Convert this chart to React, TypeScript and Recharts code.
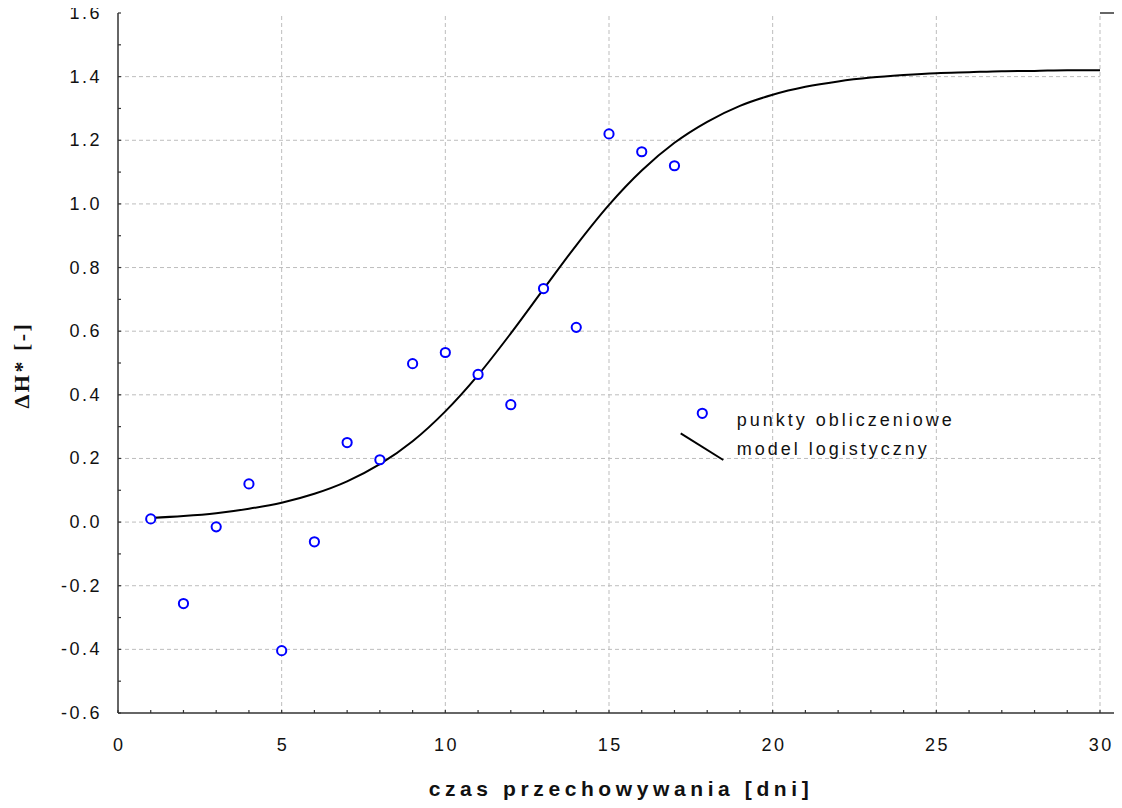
import React from 'react';
import {
  ComposedChart,
  Line,
  Scatter,
  XAxis,
  YAxis,
  ReferenceLine,
} from 'recharts';

// dni (days) and measured ΔH* values
const days = [1, 2, 3, 4, 5, 6, 7, 8, 9, 10, 11, 12, 13, 14, 15, 16, 17];
const deltaH = [0.01, -0.256, -0.015, 0.12, -0.404, -0.062, 0.25, 0.196, 0.498, 0.533, 0.464, 0.369, 0.734, 0.612, 1.22, 1.164, 1.12];

// logistic model curve
const modelDays = [1, 2, 3, 4, 5, 6, 7, 8, 9, 10, 11, 12, 13, 14, 15, 16, 17, 18, 19, 20, 21, 22, 23, 24, 25, 26, 27, 28, 29, 30];
const modelH = [0.013, 0.019, 0.028, 0.042, 0.061, 0.089, 0.128, 0.182, 0.254, 0.348, 0.462, 0.593, 0.732, 0.87, 0.997, 1.105, 1.192, 1.258, 1.308, 1.343, 1.368, 1.385, 1.397, 1.405, 1.411, 1.414, 1.417, 1.418, 1.42, 1.42];

const xTicks = [0, 1, 2, 3, 4, 5, 6, 7, 8, 9, 10, 11, 12, 13, 14, 15, 16, 17, 18, 19, 20, 21, 22, 23, 24, 25, 26, 27, 28, 29, 30];
const yTicks = [-0.6, -0.5, -0.4, -0.3, -0.2, -0.1, 0, 0.1, 0.2, 0.3, 0.4, 0.5, 0.6, 0.7, 0.8, 0.9, 1.0, 1.1, 1.2, 1.3, 1.4, 1.5, 1.6];
const xGrid = [5, 10, 15, 20, 25, 30];
const yGrid = [-0.4, -0.2, 0, 0.2, 0.4, 0.6, 0.8, 1.0, 1.2, 1.4];

const points = days.map((d, i) => ({ x: d, y: deltaH[i] }));
const model = modelDays.map((d, i) => ({ x: d, y: modelH[i] }));

const AXIS = '#333';
const GRID = '#bdbdbd';
const FONT = 'Arial, "Liberation Sans", sans-serif';

function BottomTick({ x, y, payload }: any) {
  const major = payload.value % 5 === 0;
  return (
    <g>
      <line x1={x} x2={x} y1={y} y2={y - 3} stroke={AXIS} strokeWidth={1.2} />
      {major && (
        <text x={x + 1.3} y={y + 32} textAnchor="middle" dominantBaseline="central"
          fontFamily={FONT} fontSize={18} letterSpacing={2.5} fill="#111">
          {payload.value}
        </text>
      )}
    </g>
  );
}

function TopTick({ x, y }: any) {
  return <line x1={x} x2={x} y1={y} y2={y + 3} stroke={AXIS} strokeWidth={1.2} />;
}

function LeftTick({ x, y, payload }: any) {
  const major = Math.round(payload.value * 10) % 2 === 0;
  return (
    <g>
      <line x1={x} x2={x + 3} y1={y} y2={y} stroke={AXIS} strokeWidth={1.2} />
      {major && (
        <text x={x - 16} y={y} textAnchor="end" dominantBaseline="central"
          fontFamily={FONT} fontSize={18} letterSpacing={2.5} fill="#111">
          {payload.value.toFixed(1)}
        </text>
      )}
    </g>
  );
}

function XTitle({ viewBox }: any) {
  const cx = viewBox.x + viewBox.width / 2 + 12;
  return (
    <text x={cx} y={viewBox.y + 83} textAnchor="middle" fontFamily={FONT} fontSize={21}
      fontWeight="bold" letterSpacing={4.6} fill="#111">
      czas przechowywania [dni]
    </text>
  );
}

function YTitle({ viewBox }: any) {
  const cx = 29;
  const cy = viewBox.y + viewBox.height / 2 + 2;
  return (
    <text x={cx} y={cy} transform={`rotate(-90, ${cx}, ${cy})`} textAnchor="middle"
      fontFamily='"Liberation Serif", "DejaVu Serif", serif' fontSize={22} fontWeight="bold"
      letterSpacing={2.5} fill="#111">
      ΔH* [-]
    </text>
  );
}

function Ring(props: any) {
  const { cx, cy } = props;
  return <circle cx={cx} cy={cy} r={4.6} fill="#fff" stroke="#0000ff" strokeWidth={2} />;
}

function LegendBox() {
  return (
    <svg width={320} height={80} style={{ position: 'absolute', left: 660, top: 390, overflow: 'visible' }}>
      <circle cx={42.3} cy={23.3} r={4.6} fill="#fff" stroke="#0000ff" strokeWidth={2} />
      <text x={76.7} y={36} fontFamily={FONT} fontSize={18} letterSpacing={3} fill="#111">
        punkty obliczeniowe
      </text>
      <line x1={20.7} y1={43.3} x2={63.3} y2={70} stroke="#000" strokeWidth={2} />
      <text x={76.7} y={65} fontFamily={FONT} fontSize={18} letterSpacing={3} fill="#111">
        model logistyczny
      </text>
    </svg>
  );
}

export default function App() {
  return (
    <div style={{ position: 'relative', width: 1122, height: 808, margin: -8, background: '#fff' }}>
      <ComposedChart width={1122} height={808} margin={{ top: 13, right: 22, bottom: 0, left: 0 }}>
        <XAxis
          xAxisId="b"
          type="number"
          dataKey="x"
          domain={[0, 30]}
          ticks={xTicks}
          interval={0}
          height={95}
          tickSize={0}
          tickMargin={0}
          tick={<BottomTick />}
          axisLine={{ stroke: AXIS, strokeWidth: 1.5 }}
          label={<XTitle />}
        />
        <XAxis
          xAxisId="t"
          orientation="top"
          type="number"
          dataKey="x"
          domain={[0, 30]}
          ticks={xTicks}
          interval={0}
          height={0}
          tickSize={0}
          tickMargin={0}
          tick={<TopTick />}
          axisLine={{ stroke: AXIS, strokeWidth: 1.5 }}
        />
        <YAxis
          yAxisId="l"
          type="number"
          domain={[-0.6, 1.6]}
          ticks={yTicks}
          interval={0}
          width={118}
          tickSize={0}
          tickMargin={0}
          tick={<LeftTick />}
          axisLine={{ stroke: AXIS, strokeWidth: 1.5 }}
          label={<YTitle />}
        />

        {xGrid.map((v) => (
          <ReferenceLine key={'gx' + v} xAxisId="b" yAxisId="l" x={v} stroke={GRID} strokeDasharray="4 3" />
        ))}
        {yGrid.map((v) => (
          <ReferenceLine key={'gy' + v} xAxisId="b" yAxisId="l" y={v} stroke={GRID} strokeDasharray="4 3" />
        ))}
        {/* axis lines run on past 30 to the edge */}
        <ReferenceLine xAxisId="b" yAxisId="l" ifOverflow="visible" stroke={AXIS} strokeWidth={1.5}
          segment={[{ x: 30, y: 1.6 }, { x: 30.7, y: 1.6 }]} />
        <ReferenceLine xAxisId="b" yAxisId="l" ifOverflow="visible" stroke={AXIS} strokeWidth={1.5}
          segment={[{ x: 30, y: -0.6 }, { x: 30.7, y: -0.6 }]} />

        <Line
          xAxisId="b"
          yAxisId="l"
          data={model}
          dataKey="y"
          type="monotone"
          stroke="#000"
          strokeWidth={2}
          dot={false}
          activeDot={false}
          isAnimationActive={false}
        />
        <Scatter
          xAxisId="b"
          yAxisId="l"
          data={points}
          dataKey="y"
          shape={<Ring />}
          isAnimationActive={false}
        />
      </ComposedChart>
      <LegendBox />
    </div>
  );
}
